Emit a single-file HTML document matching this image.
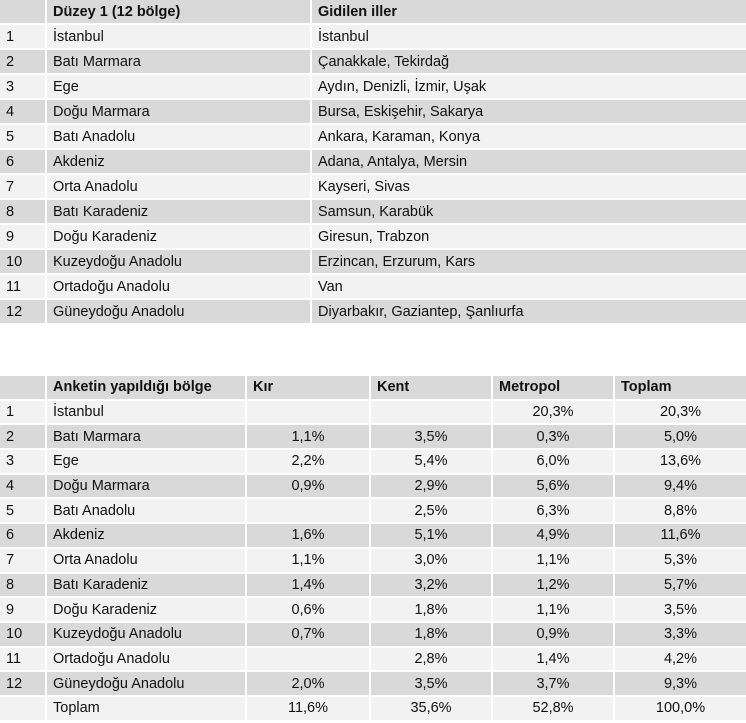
<!DOCTYPE html>
<html><head><meta charset="utf-8"><style>
body{margin:0;width:746px;height:723px;background:#fff;font-family:"Liberation Sans","DejaVu Sans",sans-serif;font-size:14.5px;color:#111;position:relative;overflow:hidden}
.t{position:absolute;left:0;width:746px;display:grid;gap:2px}
.t div{background:#f2f2f2;display:flex;align-items:center;padding-left:6px;box-sizing:border-box;white-space:nowrap}
.t div.g{background:#d9d9d9}
.t div.h{background:#d9d9d9;font-weight:bold}
.t div.c{justify-content:center;padding-left:0}
#t1{top:0;grid-template-columns:45px 263px 434px;grid-auto-rows:23px}
#t2{top:376px;grid-template-columns:45px 198px 122px 120px 120px 131px;grid-auto-rows:22.7px}
</style></head><body>
<div class="t" id="t1">
<div class="h"></div><div class="h">Düzey 1 (12 bölge)</div><div class="h">Gidilen iller</div>
<div>1</div><div>İstanbul</div><div>İstanbul</div>
<div class="g">2</div><div class="g">Batı Marmara</div><div class="g">Çanakkale, Tekirdağ</div>
<div>3</div><div>Ege</div><div>Aydın, Denizli, İzmir, Uşak</div>
<div class="g">4</div><div class="g">Doğu Marmara</div><div class="g">Bursa, Eskişehir, Sakarya</div>
<div>5</div><div>Batı Anadolu</div><div>Ankara, Karaman, Konya</div>
<div class="g">6</div><div class="g">Akdeniz</div><div class="g">Adana, Antalya, Mersin</div>
<div>7</div><div>Orta Anadolu</div><div>Kayseri, Sivas</div>
<div class="g">8</div><div class="g">Batı Karadeniz</div><div class="g">Samsun, Karabük</div>
<div>9</div><div>Doğu Karadeniz</div><div>Giresun, Trabzon</div>
<div class="g">10</div><div class="g">Kuzeydoğu Anadolu</div><div class="g">Erzincan, Erzurum, Kars</div>
<div>11</div><div>Ortadoğu Anadolu</div><div>Van</div>
<div class="g">12</div><div class="g">Güneydoğu Anadolu</div><div class="g">Diyarbakır, Gaziantep, Şanlıurfa</div>
</div>
<div class="t" id="t2">
<div class="h"></div><div class="h">Anketin yapıldığı bölge</div><div class="h">Kır</div><div class="h">Kent</div><div class="h">Metropol</div><div class="h">Toplam</div>
<div>1</div><div>İstanbul</div><div class="c"></div><div class="c"></div><div class="c">20,3%</div><div class="c">20,3%</div>
<div class="g">2</div><div class="g">Batı Marmara</div><div class="g c">1,1%</div><div class="g c">3,5%</div><div class="g c">0,3%</div><div class="g c">5,0%</div>
<div>3</div><div>Ege</div><div class="c">2,2%</div><div class="c">5,4%</div><div class="c">6,0%</div><div class="c">13,6%</div>
<div class="g">4</div><div class="g">Doğu Marmara</div><div class="g c">0,9%</div><div class="g c">2,9%</div><div class="g c">5,6%</div><div class="g c">9,4%</div>
<div>5</div><div>Batı Anadolu</div><div class="c"></div><div class="c">2,5%</div><div class="c">6,3%</div><div class="c">8,8%</div>
<div class="g">6</div><div class="g">Akdeniz</div><div class="g c">1,6%</div><div class="g c">5,1%</div><div class="g c">4,9%</div><div class="g c">11,6%</div>
<div>7</div><div>Orta Anadolu</div><div class="c">1,1%</div><div class="c">3,0%</div><div class="c">1,1%</div><div class="c">5,3%</div>
<div class="g">8</div><div class="g">Batı Karadeniz</div><div class="g c">1,4%</div><div class="g c">3,2%</div><div class="g c">1,2%</div><div class="g c">5,7%</div>
<div>9</div><div>Doğu Karadeniz</div><div class="c">0,6%</div><div class="c">1,8%</div><div class="c">1,1%</div><div class="c">3,5%</div>
<div class="g">10</div><div class="g">Kuzeydoğu Anadolu</div><div class="g c">0,7%</div><div class="g c">1,8%</div><div class="g c">0,9%</div><div class="g c">3,3%</div>
<div>11</div><div>Ortadoğu Anadolu</div><div class="c"></div><div class="c">2,8%</div><div class="c">1,4%</div><div class="c">4,2%</div>
<div class="g">12</div><div class="g">Güneydoğu Anadolu</div><div class="g c">2,0%</div><div class="g c">3,5%</div><div class="g c">3,7%</div><div class="g c">9,3%</div>
<div></div><div>Toplam</div><div class="c">11,6%</div><div class="c">35,6%</div><div class="c">52,8%</div><div class="c">100,0%</div>
</div>
</body></html>
